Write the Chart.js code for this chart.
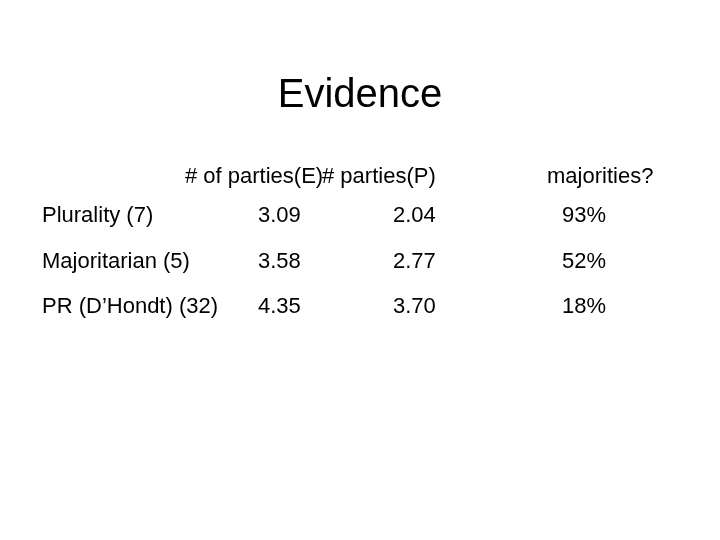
<!DOCTYPE html>
<html><head><meta charset="utf-8">
<script src="https://cdn.jsdelivr.net/npm/chart.js@4"></script>
<style>html,body{margin:0;background:#fff}#w{width:720px;height:540px}</style>
</head><body><div id="w"><canvas id="c"></canvas></div>
<script>
const title = "Evidence";
const headers = ["# of parties(E)", "# parties(P)", "majorities?"];
const categories = ["Plurality (7)", "Majoritarian (5)", "PR (D\u2019Hondt) (32)"];
const partiesE = ["3.09", "3.58", "4.35"];
const partiesP = ["2.04", "2.77", "3.70"];
const majorities = ["93%", "52%", "18%"];

// layout (style only)
const colX = [42, 258, 393, 562];
const headX = [185, 322, 547];
const headY = 177, rowY = [216, 262, 307];

const tablePlugin = {
  id: 'table',
  afterDraw(chart) {
    const ctx = chart.ctx, xs = chart.scales.x, ys = chart.scales.y;
    ctx.save();
    ctx.fillStyle = '#000';
    ctx.textBaseline = 'middle';
    ctx.textAlign = 'left';
    ctx.font = '22px "Liberation Sans", Arial, sans-serif';
    headers.forEach((h, i) => ctx.fillText(h, xs.getPixelForValue(headX[i]), ys.getPixelForValue(headY)));
    categories.forEach((c, r) => {
      const y = ys.getPixelForValue(rowY[r]);
      [c, partiesE[r], partiesP[r], majorities[r]].forEach((t, k) =>
        ctx.fillText(t, xs.getPixelForValue(colX[k]), y));
    });
    ctx.font = '40px "Liberation Sans", Arial, sans-serif';
    ctx.textAlign = 'center';
    ctx.fillText(title, xs.getPixelForValue(360), ys.getPixelForValue(96));
    ctx.restore();
  }
};

new Chart(document.getElementById('c'), {
  type: 'scatter',
  data: { datasets: [{ data: [] }] },
  options: {
    responsive: true, maintainAspectRatio: false, animation: false,
    layout: { padding: 0 },
    plugins: { legend: { display: false }, tooltip: { enabled: false } },
    scales: {
      x: { type: 'linear', min: 0, max: 720, display: false },
      y: { type: 'linear', min: 0, max: 540, reverse: true, display: false }
    }
  },
  plugins: [tablePlugin]
});
</script></body></html>
